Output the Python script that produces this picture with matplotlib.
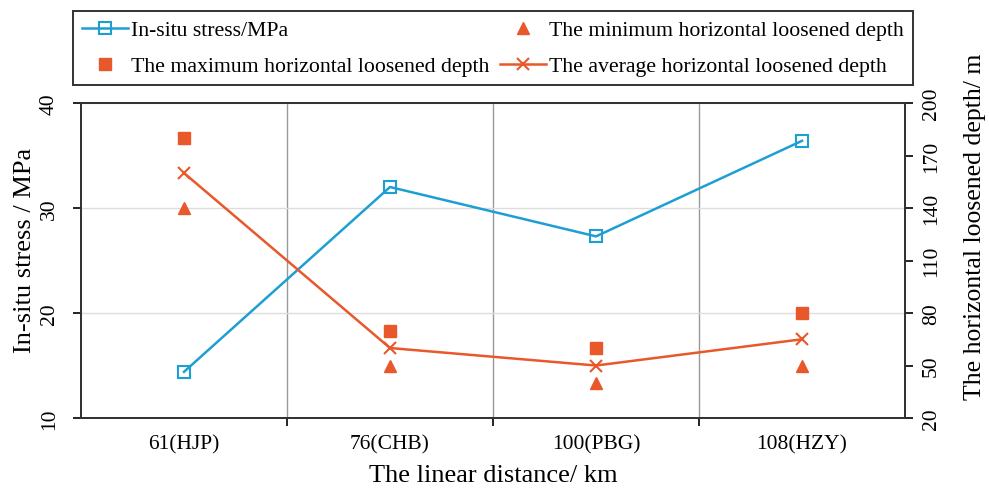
import numpy as np
import matplotlib.pyplot as plt

plt.rcParams['font.family'] = ['Liberation Serif', 'DejaVu Serif']

# Sites along the line and measured values
sites = ['61(HJP)', '76(CHB)', '100(PBG)', '108(HZY)']
stress = [14.4, 32.0, 27.3, 36.4]          # MPa
depth_max = [180, 70, 60, 80]              # m
depth_min = [140, 50, 40, 50]              # m
depth_avg = [160, 60, 50, 65]              # m

blue = '#1e9fd4'
orange = '#e8582b'

x = np.arange(len(sites))

fig = plt.figure(figsize=(9.89, 4.89), dpi=100)
ax = fig.add_axes([0.0819, 0.1431, 0.8332, 0.6442])
ax2 = ax.twinx()

l1, = ax.plot(x, stress, color=blue, lw=1.8, marker='s', ms=9, mfc='none',
              mew=1.5, label='In-situ stress/MPa', zorder=3)
l2, = ax2.plot(x, depth_max, ls='none', marker='s', ms=8, color=orange,
               label='The maximum horizontal loosened depth')
l3, = ax2.plot(x, depth_min, ls='none', marker='^', ms=8, color=orange,
               label='The minimum horizontal loosened depth')
l4, = ax2.plot(x, depth_avg, color=orange, lw=1.8, marker='x', ms=9, mew=1.5,
               label='The average horizontal loosened depth')

ax.set_xlim(-0.5, 3.5)
ax.set_ylim(10, 40)
ax.set_yticks([10, 20, 30, 40])
ax2.set_ylim(20, 200)
ax2.set_yticks([20, 50, 80, 110, 140, 170, 200])

# category labels centred, ticks and gridlines on the boundaries
ax.set_xticks(x)
ax.set_xticklabels(sites, fontsize=15.5)
ax.set_xticks([0.5, 1.5, 2.5], minor=True)
ax.tick_params(axis='x', which='major', length=0, pad=12)
ax.tick_params(axis='x', which='minor', length=6, width=1.2, direction='out')
ax.grid(axis='x', which='minor', color='#999999', lw=1.0)
ax.grid(axis='y', which='major', color='#dddddd', lw=1.0)
ax.set_axisbelow(True)

ax.tick_params(axis='y', labelsize=15.5, length=6, width=1.2, direction='out', pad=10)
ax2.tick_params(axis='y', labelsize=15.5, length=6, width=1.2, direction='out', pad=6)
for lab in ax.get_yticklabels():
    lab.set_rotation(90)
    lab.set_va('center')
for lab in ax2.get_yticklabels():
    lab.set_rotation(90)
    lab.set_va('center')

for a in (ax, ax2):
    for s in a.spines.values():
        s.set_linewidth(1.4)
        s.set_color('#333333')

ax.set_xlabel('The linear distance/ km', fontsize=19)
ax.xaxis.set_label_coords(0.5, -0.145)
ax.set_ylabel('In-situ stress / MPa', fontsize=19)
ax.yaxis.set_label_coords(-0.055, 0.535)
ax2.set_ylabel('The horizontal loosened depth/ m', fontsize=18.5)
ax2.yaxis.set_label_coords(1.072, 0.61)

leg = fig.legend([l1, l2, l3, l4], [h.get_label() for h in (l1, l2, l3, l4)],
                 ncol=2, loc='upper left', mode='expand',
                 bbox_to_anchor=(0.0738, 0.830, 0.849, 0.145),
                 fontsize=15.7, frameon=True, fancybox=False,
                 edgecolor='black', handlelength=2.1, handletextpad=0.15,
                 columnspacing=0.2, borderaxespad=0, borderpad=0.4,
                 labelspacing=0.72)
leg.get_frame().set_linewidth(1.4)

fig.savefig('out.png', dpi=100)
